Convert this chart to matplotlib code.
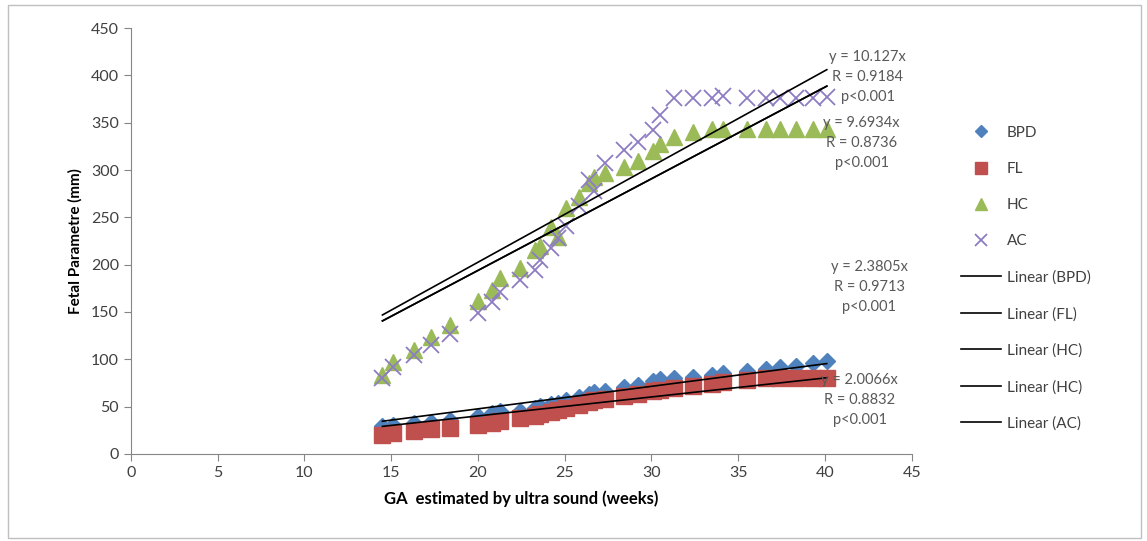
import matplotlib
matplotlib.use("Agg")
import matplotlib.pyplot as plt
import numpy as np
from matplotlib.patches import Rectangle

plt.rcParams['font.family'] = ['Lato', 'DejaVu Sans']

# ---- data ----
ga_weeks = [14.5, 15.1, 16.3, 17.3, 18.4, 20.0, 20.8, 21.3, 22.4, 23.3, 23.6, 24.2,
            24.6, 25.1, 25.8, 26.4, 26.7, 27.3, 28.4, 29.2, 30.1, 30.5, 31.3, 32.4,
            33.5, 34.1, 35.5, 36.6, 37.4, 38.3, 39.3, 40.1]
bpd = [30, 31, 33, 34, 36, 40, 43, 45, 45, 49, 51, 53, 54, 57, 60, 63, 65, 67, 71, 73,
       77, 79, 80, 81, 83, 86, 88, 90, 92, 93, 96, 98]
fl = [20, 22, 24, 26, 27, 31, 33, 35, 38, 40, 42, 44, 46, 49, 52, 55, 57, 58, 61, 63,
      66, 68, 70, 72, 74, 76, 78, 80, 80, 80, 80, 80]
hc = [83, 97, 110, 124, 136, 162, 173, 186, 197, 215, 220, 240, 229, 260, 271, 286, 293,
      297, 303, 310, 320, 328, 335, 340, 343, 343, 343, 343, 343, 343, 343, 343]
ac = [80, 92, 105, 115, 127, 149, 161, 171, 184, 194, 205, 218, 228, 241, 262, 290, 278,
      307, 321, 330, 342, 358, 376, 376, 376, 378, 376, 376, 376, 376, 376, 377]

slope_bpd, slope_fl, slope_hc, slope_ac = 2.3805, 2.0066, 9.6934, 10.127
eq_bpd = "y = 2.3805x\nR = 0.9713\np<0.001"
eq_fl = "y = 2.0066x\nR = 0.8832\np<0.001"
eq_hc = "y = 9.6934x\nR = 0.8736\np<0.001"
eq_ac = "y = 10.127x\nR = 0.9184\np<0.001"

x_ticks = [0, 5, 10, 15, 20, 25, 30, 35, 40, 45]
y_ticks = [0, 50, 100, 150, 200, 250, 300, 350, 400, 450]

# ---- figure ----
fig = plt.figure(figsize=(11.47, 5.41), dpi=100)
ax = fig.add_axes([0.114, 0.161, 0.681, 0.787])

x = np.array(ga_weeks)
ax.plot(x, bpd, linestyle='none', marker='D', ms=8.5, color='#4F81BD', mec='#4F81BD', label='BPD')
ax.plot(x, fl, linestyle='none', marker='s', ms=11, color='#C0504D', mec='#C0504D', label='FL')
ax.plot(x, hc, linestyle='none', marker='^', ms=11, color='#9BBB59', mec='#9BBB59', label='HC')
ax.plot(x, ac, linestyle='none', marker='x', ms=11, mew=1.3, color='#8E7CC3', label='AC')

xl = np.array([min(ga_weeks), max(ga_weeks)])
for s, lab in [(slope_bpd, 'Linear (BPD)'), (slope_fl, 'Linear (FL)'),
               (slope_hc, 'Linear (HC)'), (slope_hc, 'Linear (HC)'), (slope_ac, 'Linear (AC)')]:
    ax.plot(xl, s * xl, color='black', lw=1.2, label=lab)

tc = '#595959'
kw = dict(ha='center', va='top', fontsize=10.5, color=tc, linespacing=1.55)
ax.text(42.45, 427, eq_ac, **kw)
ax.text(42.1, 357, eq_hc, **kw)
ax.text(42.55, 205, eq_bpd, **kw)
ax.text(42.0, 86, eq_fl, **kw)

ax.set_xlim(0, 45)
ax.set_ylim(0, 450)
ax.set_xticks(x_ticks)
ax.set_yticks(y_ticks)
ax.tick_params(axis='both', direction='out', length=5, color='#868686',
               labelsize=11.5, labelcolor='#404040')
for sp in ['top', 'right']:
    ax.spines[sp].set_visible(False)
for sp in ['left', 'bottom']:
    ax.spines[sp].set_color('#868686')
ax.set_xlabel('GA  estimated by ultra sound (weeks)', fontsize=12, fontweight='bold', labelpad=8)
ax.set_ylabel('Fetal Parametre (mm)', fontsize=11, fontweight='bold', labelpad=6)

leg = ax.legend(loc='upper left', bbox_to_anchor=(1.055, 0.785), frameon=False,
                fontsize=11, labelspacing=1.45, handlelength=2.6, handletextpad=0.4,
                markerscale=0.75, labelcolor='#404040', borderaxespad=0)

fig.patches.append(Rectangle((0.007, 0.005), 0.988, 0.985, transform=fig.transFigure,
                             fill=False, edgecolor='#BFBFBF', lw=1))

fig.savefig('out.png', dpi=100)
